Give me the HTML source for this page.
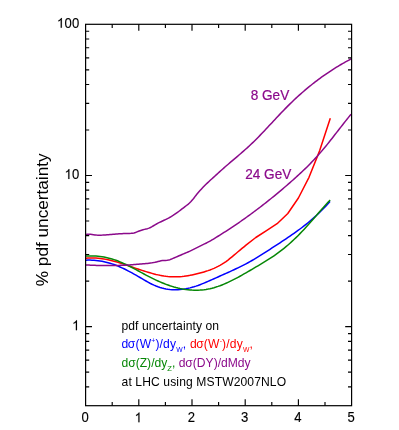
<!DOCTYPE html><html><head><meta charset="utf-8"><style>html,body{margin:0;padding:0;background:#fff;}svg{display:block;will-change:transform;}text{font-family:"Liberation Sans",sans-serif;}</style></head><body>
<svg width="399" height="430" viewBox="0 0 399 430">
<rect x="0" y="0" width="399" height="430" fill="#fff"/>
<polyline fill="none" stroke="#0000ff" stroke-width="1.5" stroke-linejoin="round" stroke-linecap="butt" points="86.00,260.15 88.00,260.10 90.00,260.11 92.00,260.17 94.00,260.29 96.00,260.46 98.00,260.69 100.00,260.97 102.00,261.31 104.00,261.71 106.00,262.16 108.00,262.67 110.00,263.24 112.00,263.87 114.00,264.56 116.00,265.30 118.00,266.10 120.00,266.96 122.00,267.86 124.00,268.80 126.00,269.79 128.00,270.81 130.00,271.87 132.00,272.96 134.00,274.07 136.00,275.20 138.00,276.35 140.00,277.52 142.00,278.69 144.00,279.87 146.00,281.02 148.00,282.14 150.00,283.22 152.00,284.24 154.00,285.18 156.00,286.04 158.00,286.80 160.00,287.47 162.00,288.05 164.00,288.54 166.00,288.95 168.00,289.28 170.00,289.52 172.00,289.68 174.00,289.76 176.00,289.77 178.00,289.71 180.00,289.57 182.00,289.36 184.00,289.09 186.00,288.74 188.00,288.34 190.00,287.87 192.00,287.34 194.00,286.76 196.00,286.12 198.00,285.43 200.00,284.69 202.00,283.92 204.00,283.12 206.00,282.28 208.00,281.42 210.00,280.55 212.00,279.65 214.00,278.75 216.00,277.85 218.00,276.95 220.00,276.05 222.00,275.16 224.00,274.26 226.00,273.37 228.00,272.47 230.00,271.56 232.00,270.65 234.00,269.72 236.00,268.78 238.00,267.83 240.00,266.85 242.00,265.86 244.00,264.85 246.00,263.81 248.00,262.74 250.00,261.65 252.00,260.52 254.00,259.36 256.00,258.17 258.00,256.95 260.00,255.71 262.00,254.45 264.00,253.17 266.00,251.88 268.00,250.58 270.00,249.28 272.00,247.98 274.00,246.68 276.00,245.38 278.00,244.08 280.00,242.77 282.00,241.47 284.00,240.15 286.00,238.82 288.00,237.48 290.00,236.12 292.00,234.74 294.00,233.34 296.00,231.92 298.00,230.47 300.00,228.99 302.00,227.48 304.00,225.94 306.00,224.36 308.00,222.73 310.00,221.07 312.00,219.36 314.00,217.61 316.00,215.80 318.00,213.94 320.00,212.02 322.00,210.05 324.00,208.02 326.00,205.92 328.00,203.76 330.00,201.53 330.10,201.42"/>
<polyline fill="none" stroke="#ff0000" stroke-width="1.5" stroke-linejoin="round" stroke-linecap="butt" points="86.00,258.26 88.00,258.08 90.00,257.97 92.00,257.94 94.00,257.97 96.00,258.06 98.00,258.22 100.00,258.43 102.00,258.70 104.00,259.01 106.00,259.38 108.00,259.79 110.00,260.24 112.00,260.72 114.00,261.25 116.00,261.80 118.00,262.38 120.00,262.99 122.00,263.62 124.00,264.26 126.00,264.92 128.00,265.59 130.00,266.28 132.00,266.96 134.00,267.65 136.00,268.34 138.00,269.02 140.00,269.69 142.00,270.36 144.00,271.00 146.00,271.64 148.00,272.25 150.00,272.83 152.00,273.39 154.00,273.92 156.00,274.42 158.00,274.87 160.00,275.29 162.00,275.66 164.00,275.99 166.00,276.27 168.00,276.49 170.00,276.66 172.00,276.76 174.00,276.81 176.00,276.81 178.00,276.75 180.00,276.63 182.00,276.47 184.00,276.26 186.00,276.00 188.00,275.70 190.00,275.36 192.00,274.97 194.00,274.55 196.00,274.09 198.00,273.60 200.00,273.07 202.00,272.52 204.00,271.93 206.00,271.31 208.00,270.65 210.00,269.94 212.00,269.17 214.00,268.34 216.00,267.43 218.00,266.45 220.00,265.37 222.00,264.20 224.00,262.92 226.00,261.53 228.00,260.04 230.00,258.46 232.00,256.83 234.00,255.16 236.00,253.48 238.00,251.79 240.00,250.12 242.00,248.45 244.00,246.80 246.00,245.16 255.80,237.50 266.50,230.60 277.10,223.70 287.80,213.50 298.40,198.00 309.00,177.30 319.70,150.60 330.30,118.30"/>
<polyline fill="none" stroke="#068706" stroke-width="1.5" stroke-linejoin="round" stroke-linecap="butt" points="86.00,256.02 88.00,255.94 90.00,255.92 92.00,255.93 94.00,256.00 96.00,256.12 98.00,256.28 100.00,256.50 102.00,256.77 104.00,257.10 106.00,257.48 108.00,257.93 110.00,258.43 112.00,258.99 114.00,259.62 116.00,260.31 118.00,261.05 120.00,261.86 122.00,262.71 124.00,263.61 126.00,264.54 128.00,265.51 130.00,266.52 132.00,267.54 134.00,268.59 136.00,269.66 138.00,270.73 140.00,271.81 142.00,272.90 144.00,273.98 146.00,275.05 148.00,276.10 150.00,277.14 152.00,278.16 154.00,279.15 156.00,280.10 158.00,281.03 160.00,281.91 162.00,282.75 164.00,283.56 166.00,284.33 168.00,285.05 170.00,285.74 172.00,286.37 174.00,286.97 176.00,287.52 178.00,288.02 180.00,288.47 182.00,288.87 184.00,289.23 186.00,289.53 188.00,289.77 190.00,289.97 192.00,290.11 194.00,290.19 196.00,290.21 198.00,290.18 200.00,290.09 202.00,289.93 204.00,289.72 206.00,289.44 208.00,289.09 210.00,288.68 212.00,288.21 214.00,287.67 216.00,287.07 218.00,286.41 220.00,285.70 222.00,284.93 224.00,284.12 226.00,283.26 228.00,282.36 230.00,281.42 232.00,280.44 234.00,279.43 236.00,278.39 238.00,277.32 240.00,276.22 242.00,275.10 244.00,273.97 246.00,272.82 248.00,271.65 250.00,270.48 252.00,269.31 254.00,268.13 256.00,266.95 258.00,265.78 260.00,264.60 262.00,263.41 264.00,262.20 266.00,260.98 268.00,259.72 270.00,258.44 272.00,257.12 274.00,255.77 276.00,254.36 278.00,252.91 280.00,251.42 282.00,249.88 284.00,248.29 286.00,246.65 288.00,244.95 290.00,243.21 292.00,241.41 294.00,239.56 296.00,237.65 298.00,235.68 300.00,233.65 302.00,231.57 304.00,229.43 306.00,227.25 308.00,225.03 310.00,222.78 312.00,220.50 314.00,218.21 316.00,215.91 318.00,213.61 320.00,211.31 322.00,209.03 324.00,206.77 326.00,204.53 328.00,202.33 330.00,200.17 330.10,200.07"/>
<polyline fill="none" stroke="#8b0a8b" stroke-width="1.5" stroke-linejoin="round" stroke-linecap="butt" points="86.00,234.49 87.50,234.22 89.00,234.17 90.50,234.27 92.00,234.47 93.50,234.71 95.00,234.94 96.50,235.10 98.00,235.19 99.50,235.21 101.00,235.18 102.50,235.12 104.00,235.02 105.50,234.90 107.00,234.78 108.50,234.65 110.00,234.53 111.50,234.40 113.00,234.28 114.50,234.17 116.00,234.05 117.50,233.95 119.00,233.85 120.50,233.75 122.00,233.67 123.50,233.60 125.00,233.53 126.50,233.48 128.00,233.44 129.50,233.41 131.00,233.37 132.50,233.25 134.00,232.96 135.50,232.48 137.00,231.91 138.50,231.32 140.00,230.77 141.50,230.26 143.00,229.78 144.50,229.38 146.00,229.03 147.50,228.65 149.00,228.15 150.50,227.47 152.00,226.65 153.50,225.76 155.00,224.86 156.50,224.01 158.00,223.21 159.50,222.44 161.00,221.71 162.50,221.00 164.00,220.29 165.50,219.59 167.00,218.86 168.50,218.10 170.00,217.28 171.50,216.40 173.00,215.46 174.50,214.46 176.00,213.42 177.50,212.34 179.00,211.24 180.50,210.11 182.00,208.96 183.50,207.81 185.00,206.67 186.50,205.52 188.00,204.33 189.50,203.03 191.00,201.56 192.50,199.87 194.00,197.92 195.50,195.92 197.00,194.02 198.50,192.22 200.00,190.52 201.50,188.90 203.00,187.33 204.50,185.80 206.00,184.31 207.50,182.87 209.00,181.45 210.50,180.06 212.00,178.69 213.50,177.34 215.00,175.98 216.50,174.63 218.00,173.27 219.50,171.90 221.00,170.54 222.50,169.19 224.00,167.86 225.50,166.55 227.00,165.25 228.50,163.96 230.00,162.68 231.50,161.40 233.00,160.13 234.50,158.86 236.00,157.59 237.50,156.31 239.00,155.03 240.50,153.74 242.00,152.44 243.50,151.13 245.00,149.81 246.50,148.46 248.00,147.10 249.50,145.72 251.00,144.31 252.50,142.88 254.00,141.42 255.50,139.94 257.00,138.43 258.50,136.91 260.00,135.37 261.50,133.81 263.00,132.24 264.50,130.66 266.00,129.07 267.50,127.47 269.00,125.86 270.50,124.25 272.00,122.64 273.50,121.03 275.00,119.42 276.50,117.82 278.00,116.22 279.50,114.63 281.00,113.05 282.50,111.48 284.00,109.93 285.50,108.39 287.00,106.87 288.50,105.37 290.00,103.89 291.50,102.43 293.00,100.99 294.50,99.57 296.00,98.17 297.50,96.79 299.00,95.42 300.50,94.08 302.00,92.76 303.50,91.46 305.00,90.17 306.50,88.91 308.00,87.66 309.50,86.43 311.00,85.22 312.50,84.02 314.00,82.85 315.50,81.69 317.00,80.55 318.50,79.43 320.00,78.32 321.50,77.23 323.00,76.16 324.50,75.10 326.00,74.06 327.50,73.04 329.00,72.03 330.50,71.04 332.00,70.06 333.50,69.10 335.00,68.15 336.50,67.22 338.00,66.31 339.50,65.41 341.00,64.52 342.50,63.65 344.00,62.79 345.50,61.95 347.00,61.12 348.50,60.30 350.00,59.50 351.10,58.92"/>
<polyline fill="none" stroke="#8b0a8b" stroke-width="1.5" stroke-linejoin="round" stroke-linecap="butt" points="86.00,264.98 87.50,265.06 89.00,265.12 90.50,265.19 92.00,265.24 93.50,265.30 95.00,265.34 96.50,265.39 98.00,265.43 99.50,265.46 101.00,265.49 102.50,265.51 104.00,265.53 105.50,265.54 107.00,265.54 108.50,265.54 110.00,265.54 111.50,265.53 113.00,265.51 114.50,265.49 116.00,265.46 117.50,265.42 119.00,265.38 120.50,265.33 122.00,265.28 123.50,265.22 125.00,265.15 126.50,265.08 128.00,265.00 129.50,264.91 131.00,264.82 132.50,264.72 134.00,264.61 135.50,264.50 137.00,264.37 138.50,264.25 140.00,264.11 141.50,263.97 143.00,263.82 144.50,263.68 146.00,263.54 147.50,263.39 149.00,263.23 150.50,263.04 152.00,262.83 153.50,262.57 155.00,262.26 156.50,261.90 158.00,261.52 159.50,261.15 161.00,260.83 162.50,260.59 164.00,260.46 165.50,260.38 167.00,260.27 168.50,260.06 170.00,259.67 171.50,259.07 173.00,258.39 174.50,257.73 176.00,257.08 177.50,256.44 179.00,255.81 180.50,255.19 182.00,254.56 183.50,253.93 185.00,253.30 186.50,252.65 188.00,252.00 189.50,251.32 191.00,250.63 192.50,249.91 194.00,249.17 195.50,248.41 197.00,247.65 198.50,246.89 200.00,246.14 201.50,245.40 203.00,244.67 204.50,243.94 206.00,243.21 207.50,242.45 209.00,241.65 210.50,240.81 212.00,239.93 213.50,239.03 215.00,238.10 216.50,237.18 218.00,236.25 219.50,235.32 221.00,234.38 222.50,233.44 224.00,232.49 225.50,231.53 227.00,230.57 228.50,229.59 230.00,228.61 231.50,227.62 233.00,226.62 234.50,225.61 236.00,224.59 237.50,223.57 239.00,222.54 240.50,221.50 242.00,220.45 243.50,219.39 245.00,218.33 246.50,217.25 248.00,216.17 249.50,215.09 251.00,213.99 252.50,212.88 254.00,211.77 255.50,210.65 257.00,209.52 258.50,208.38 260.00,207.24 261.50,206.08 263.00,204.92 264.50,203.75 266.00,202.57 267.50,201.39 269.00,200.19 270.50,198.99 272.00,197.78 273.50,196.56 275.00,195.33 276.50,194.10 278.00,192.86 279.50,191.61 281.00,190.35 282.50,189.08 284.00,187.80 285.50,186.52 287.00,185.23 288.50,183.93 290.00,182.62 291.50,181.30 293.00,179.98 294.50,178.64 296.00,177.29 297.50,175.93 299.00,174.56 300.50,173.17 302.00,171.76 303.50,170.33 305.00,168.89 306.50,167.42 308.00,165.93 309.50,164.42 311.00,162.89 312.50,161.33 314.00,159.74 315.50,158.13 317.00,156.48 318.50,154.81 320.00,153.10 321.50,151.37 323.00,149.59 324.50,147.79 326.00,145.96 327.50,144.11 329.00,142.23 330.50,140.34 332.00,138.43 333.50,136.51 335.00,134.58 336.50,132.65 338.00,130.71 339.50,128.78 341.00,126.85 342.50,124.92 344.00,123.01 345.50,121.11 347.00,119.23 348.50,117.37 350.00,115.54 351.10,114.20"/>
<rect x="85.60" y="24.30" width="266.00" height="381.40" fill="none" stroke="#000" stroke-width="1.2"/>
<path d="M112.20 24.30v3.60M112.20 405.70v-3.60M138.80 24.30v6.40M138.80 405.70v-6.40M165.40 24.30v3.60M165.40 405.70v-3.60M192.00 24.30v6.40M192.00 405.70v-6.40M218.60 24.30v3.60M218.60 405.70v-3.60M245.20 24.30v6.40M245.20 405.70v-6.40M271.80 24.30v3.60M271.80 405.70v-3.60M298.40 24.30v6.40M298.40 405.70v-6.40M325.00 24.30v3.60M325.00 405.70v-3.60M85.60 386.81h3.60M351.60 386.81h-3.60M85.60 372.16h3.60M351.60 372.16h-3.60M85.60 360.19h3.60M351.60 360.19h-3.60M85.60 350.07h3.60M351.60 350.07h-3.60M85.60 341.30h3.60M351.60 341.30h-3.60M85.60 333.57h3.60M351.60 333.57h-3.60M85.60 326.65h6.40M351.60 326.65h-6.40M85.60 281.14h3.60M351.60 281.14h-3.60M85.60 254.52h3.60M351.60 254.52h-3.60M85.60 235.64h3.60M351.60 235.64h-3.60M85.60 220.99h3.60M351.60 220.99h-3.60M85.60 209.01h3.60M351.60 209.01h-3.60M85.60 198.89h3.60M351.60 198.89h-3.60M85.60 190.13h3.60M351.60 190.13h-3.60M85.60 182.39h3.60M351.60 182.39h-3.60M85.60 175.48h6.40M351.60 175.48h-6.40M85.60 129.97h3.60M351.60 129.97h-3.60M85.60 103.35h3.60M351.60 103.35h-3.60M85.60 84.46h3.60M351.60 84.46h-3.60M85.60 69.81h3.60M351.60 69.81h-3.60M85.60 57.84h3.60M351.60 57.84h-3.60M85.60 47.72h3.60M351.60 47.72h-3.60M85.60 38.95h3.60M351.60 38.95h-3.60M85.60 31.22h3.60M351.60 31.22h-3.60" stroke="#000" stroke-width="1.15" fill="none"/>
<g transform="translate(81.41,422.30) scale(1,1.05)"><text x="0.00" y="0" font-size="13.1" letter-spacing="0.3" stroke="#000" stroke-width="0.12">0</text></g>
<g transform="translate(134.61,422.30) scale(1,1.05)"><path d="M373,0 L285,0 L285,560 Q253,530 201.5,500 Q150,470 109,455 L109,540 Q183,575 238,624.5 Q293,674 316,720 L373,720 Z" transform="translate(0.00,0) scale(0.01310,-0.01310)" fill="#000" stroke="#000" stroke-width="9.2"/></g>
<g transform="translate(187.81,422.30) scale(1,1.05)"><text x="0.00" y="0" font-size="13.1" letter-spacing="0.3" stroke="#000" stroke-width="0.12">2</text></g>
<g transform="translate(241.01,422.30) scale(1,1.05)"><text x="0.00" y="0" font-size="13.1" letter-spacing="0.3" stroke="#000" stroke-width="0.12">3</text></g>
<g transform="translate(294.21,422.30) scale(1,1.05)"><text x="0.00" y="0" font-size="13.1" letter-spacing="0.3" stroke="#000" stroke-width="0.12">4</text></g>
<g transform="translate(347.41,422.30) scale(1,1.05)"><text x="0.00" y="0" font-size="13.1" letter-spacing="0.3" stroke="#000" stroke-width="0.12">5</text></g>
<g transform="translate(56.95,27.80) scale(1,1.05)"><path d="M373,0 L285,0 L285,560 Q253,530 201.5,500 Q150,470 109,455 L109,540 Q183,575 238,624.5 Q293,674 316,720 L373,720 Z" transform="translate(0.00,0) scale(0.01310,-0.01310)" fill="#000" stroke="#000" stroke-width="9.2"/><text x="7.58" y="0" font-size="13.1" letter-spacing="0.3" stroke="#000" stroke-width="0.12">00</text></g>
<g transform="translate(64.53,178.98) scale(1,1.05)"><path d="M373,0 L285,0 L285,560 Q253,530 201.5,500 Q150,470 109,455 L109,540 Q183,575 238,624.5 Q293,674 316,720 L373,720 Z" transform="translate(0.00,0) scale(0.01310,-0.01310)" fill="#000" stroke="#000" stroke-width="9.2"/><text x="7.58" y="0" font-size="13.1" letter-spacing="0.3" stroke="#000" stroke-width="0.12">0</text></g>
<g transform="translate(72.12,330.15) scale(1,1.05)"><path d="M373,0 L285,0 L285,560 Q253,530 201.5,500 Q150,470 109,455 L109,540 Q183,575 238,624.5 Q293,674 316,720 L373,720 Z" transform="translate(0.00,0) scale(0.01310,-0.01310)" fill="#000" stroke="#000" stroke-width="9.2"/></g>
<text transform="translate(48.3,286.2) rotate(-90)" font-size="17.2">% pdf uncertainty</text>
<text transform="translate(250.7,99.8) scale(1,1.08)" font-size="13.6" fill="#8b0a8b" stroke="#8b0a8b" stroke-width="0.2">8 GeV</text>
<text transform="translate(245.2,178.7) scale(1,1.08)" font-size="13.6" fill="#8b0a8b" stroke="#8b0a8b" stroke-width="0.2">24 GeV</text>
<text x="121.5" y="329.6" font-size="12.1" letter-spacing="0.08">pdf uncertainty on</text>
<text x="121.5" y="347.5" font-size="12.1" letter-spacing="0.17"><tspan fill="#0000ff">d</tspan><tspan dx="-0.6" fill="#0000ff">σ</tspan><tspan fill="#0000ff">(W</tspan><tspan font-size="6.8" dy="-4.5" fill="#0000ff">+</tspan><tspan fill="#0000ff" dy="4.5">)/dy</tspan><tspan font-size="6.8" dy="4" fill="#0000ff">W</tspan><tspan fill="#0000ff" dy="-4">, </tspan><tspan fill="#ff0000">d</tspan><tspan dx="-0.6" fill="#ff0000">σ</tspan><tspan fill="#ff0000">(W</tspan><tspan font-size="6.8" dy="-4.5" fill="#ff0000">-</tspan><tspan fill="#ff0000" dy="4.5">)/dy</tspan><tspan font-size="6.8" dy="4" fill="#ff0000">W</tspan><tspan fill="#ff0000" dy="-4">,</tspan></text>
<text x="121.5" y="366.6" font-size="12.1"><tspan fill="#068706">dσ(Z)/dy</tspan><tspan font-size="7.6" dy="4" fill="#068706">Z</tspan><tspan fill="#068706" dy="-4">, </tspan><tspan fill="#8b0a8b">dσ(DY)/dMdy</tspan></text>
<text x="121.6" y="385.6" font-size="12.1" letter-spacing="0.11">at LHC using MSTW2007NLO</text>
</svg></body></html>
